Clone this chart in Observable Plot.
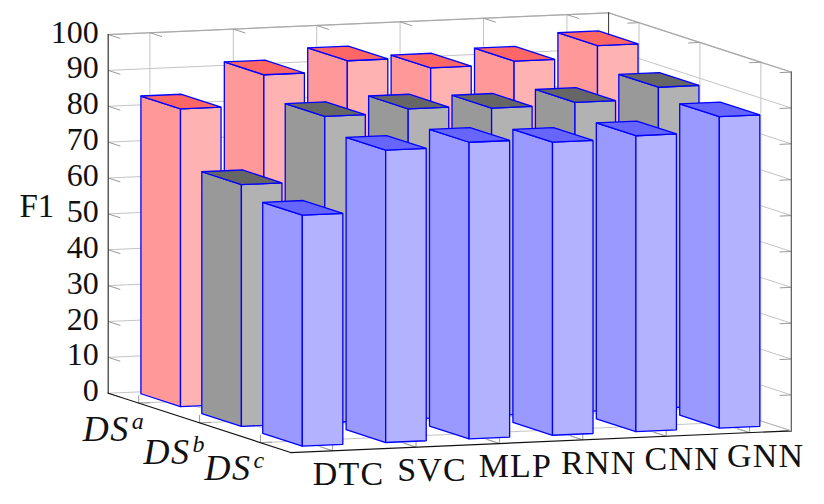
<!DOCTYPE html>
<html>
<head>
<meta charset="utf-8">
<script src="https://cdn.jsdelivr.net/npm/d3@7"></script>
<script src="https://cdn.jsdelivr.net/npm/@observablehq/plot@0.6"></script>
<style>html,body{margin:0;padding:0;background:#fff}svg{display:block}
.spaced text{letter-spacing:1.2px}
.spaced-ds text{letter-spacing:1.5px}</style>
</head>
<body>
<div id="chart"></div>
<script>
const models = ["DTC", "SVC", "MLP", "RNN", "CNN", "GNN"];
const datasets = ["a", "b", "c"];
const f1A = [83.0, 91.5, 94.4, 91.4, 92.3, 95.6];
const f1B = [67.4, 85.4, 86.5, 85.7, 86.3, 89.5];
const f1C = [64.4, 81.5, 82.7, 81.7, 82.5, 86.8];
const zTicks = d3.range(0, 101, 10);
const palettes = [
  {side: "#ff9999", front: "#ffb2b2", top: "#ff6666"},
  {side: "#999999", front: "#b2b2b2", top: "#666666"},
  {side: "#9999ff", front: "#b2b2ff", top: "#6666ff"}
];
const series = [f1A, f1B, f1C];

// Orthographic projection of (model index, dataset index, F1) to the page
const origin = [179.85, 400.8];
const unitX = [83.4, -3.62];
const unitY = [60.9, 19.77];
const unitZ = 3.587;
const px = (i, j) => origin[0] + i * unitX[0] + j * unitY[0];
const py = (i, j, z) => origin[1] + i * unitX[1] + j * unitY[1] - z * unitZ;
const P = (i, j, z) => ({x: px(i, j), y: py(i, j, z)});

const xMin = -0.5, xMax = 5.5, yMin = -0.5, yMax = 2.5, zMax = 100;
const seg = (a, b) => { const p = P(...a), q = P(...b); return {x1: p.x, y1: p.y, x2: q.x, y2: q.y}; };

// Grid
const grid = [];
for (const z of zTicks) {
  grid.push(seg([xMin, yMin, z], [xMax, yMin, z]));
  grid.push(seg([xMax, yMin, z], [xMax, yMax, z]));
}
models.forEach((_, i) => {
  grid.push(seg([i, yMin, 0], [i, yMin, zMax]));
  grid.push(seg([i, yMin, 0], [i, yMax, 0]));
});
datasets.forEach((_, j) => {
  grid.push(seg([xMax, j, 0], [xMax, j, zMax]));
  grid.push(seg([xMin, j, 0], [xMax, j, 0]));
});

// Ticks
const ticks = [];
for (const z of zTicks) {
  ticks.push(seg([xMin, yMin, z], [xMin, yMin + 0.2, z]));
  ticks.push(seg([xMax, yMax, z], [xMax - 0.14, yMax, z]));
}
models.forEach((_, i) => {
  ticks.push(seg([i, yMin, zMax], [i, yMin + 0.2, zMax]));
  ticks.push(seg([i, yMax, 0], [i, yMax - 0.2, 0]));
  ticks.push(seg([i, yMax, 0], [i, yMax, 2.2]));
});
datasets.forEach((_, j) => {
  ticks.push(seg([xMax, j, zMax], [xMax - 0.14, j, zMax]));
  ticks.push(seg([xMin, j, 0], [xMin + 0.14, j, 0]));
  ticks.push(seg([xMin, j, 0], [xMin, j, 2.2]));
});

// Bars
const wx = 0.243, wy = 0.325, sx = 0.0721, sy = -0.0885;
const faces = [];
series.forEach((vals, j) => {
  for (let i = vals.length - 1; i >= 0; i--) {
    const v = vals[i], c = palettes[j];
    const a = i + sx - wx, b = i + sx + wx, f = j + sy + wy, k = j + sy - wy;
    const add = (name, color, pts) => {
      pts.concat([pts[0]]).forEach(p => faces.push({...P(...p), id: `${j}-${i}-${name}`, color}));
    };
    add("side", c.side, [[a, k, 0], [a, f, 0], [a, f, v], [a, k, v]]);
    add("front", c.front, [[a, f, 0], [b, f, 0], [b, f, v], [a, f, v]]);
    add("top", c.top, [[a, k, v], [a, f, v], [b, f, v], [b, k, v]]);
  }
});

const serif = "'Liberation Serif', serif";
const modelLabels = models.map((t, i) => ({...P(i, yMax, 0), t}));
const zLabels = zTicks.map(z => ({...P(xMin, yMin, z), t: String(z)}));
const dsBaselineShift = [38, 41.5, 37];
const dsMarks = datasets.flatMap((s, j) => {
  const p = P(xMin, j, 0);
  return [
    Plot.text([{...p, t: "DS"}], {x: "x", y: "y", text: "t", fontFamily: serif, fontStyle: "italic", fontSize: 36, textAnchor: "end", lineAnchor: "bottom", dx: -9, dy: dsBaselineShift[j], fill: "#111", className: "spaced-ds"}),
    Plot.text([{...p, t: s}], {x: "x", y: "y", text: "t", fontFamily: serif, fontStyle: "italic", fontSize: 24, textAnchor: "start", lineAnchor: "bottom", dx: -7, dy: dsBaselineShift[j] - 12, fill: "#111"})
  ];
});

const link = (data, o) => Plot.link(data, {x1: "x1", y1: "y1", x2: "x2", y2: "y2", ...o});
const edge = (a, b, o) => link([seg(a, b)], {strokeLinecap: "square", ...o});

const chart = Plot.plot({
  width: 824, height: 504,
  margin: 0,
  x: {domain: [0, 824], range: [0, 824], axis: null},
  y: {domain: [0, 504], range: [0, 504], axis: null},
  color: {type: "identity"},
  marks: [
    link(grid, {stroke: "#c4c4c4", strokeWidth: 1}),
    edge([xMin, yMin, zMax], [xMax, yMin, zMax], {stroke: "#aaaaaa", strokeWidth: 1.2}),
    edge([xMax, yMin, zMax], [xMax, yMax, zMax], {stroke: "#aaaaaa", strokeWidth: 1.2}),
    edge([xMax, yMin, 0], [xMax, yMin, zMax], {stroke: "#333333", strokeWidth: 1}),
    link(ticks, {stroke: "#9a9a9a", strokeWidth: 1}),
    edge([xMin, yMin, 0], [xMin, yMin, zMax], {stroke: "#333333", strokeWidth: 1.2}),
    edge([xMax, yMax, 0], [xMax, yMax, zMax], {stroke: "#555555", strokeWidth: 1.2}),
    edge([xMin, yMin, 0], [xMin, yMax, 0], {stroke: "#111111", strokeWidth: 1.2}),
    edge([xMin, yMax, 0], [xMax, yMax, 0], {stroke: "#111111", strokeWidth: 1.2}),
    edge([xMax, yMin, 0], [xMax, yMax, 0], {stroke: "#bbbbbb", strokeWidth: 1}),
    Plot.line(faces, {x: "x", y: "y", z: "id", fill: "color", stroke: "#0000ff", strokeWidth: 1.3, strokeLinejoin: "miter", curve: "linear"}),
    Plot.text(zLabels, {x: "x", y: "y", text: "t", fontFamily: serif, fontSize: 32, textAnchor: "end", dx: -9.5, dy: -2.2, fill: "#111"}),
    Plot.text(modelLabels, {x: "x", y: "y", text: "t", fontFamily: serif, fontSize: 34, textAnchor: "middle", dx: 16, dy: 23.1, fill: "#111", className: "spaced"}),
    ...dsMarks,
    Plot.text(["F1"], {frameAnchor: "top-left", text: d => d, fontFamily: serif, fontSize: 33, textAnchor: "start", dx: 19, dy: 192.6, fill: "#111"})
  ]
});
document.getElementById("chart").append(chart);
</script>
</body>
</html>
